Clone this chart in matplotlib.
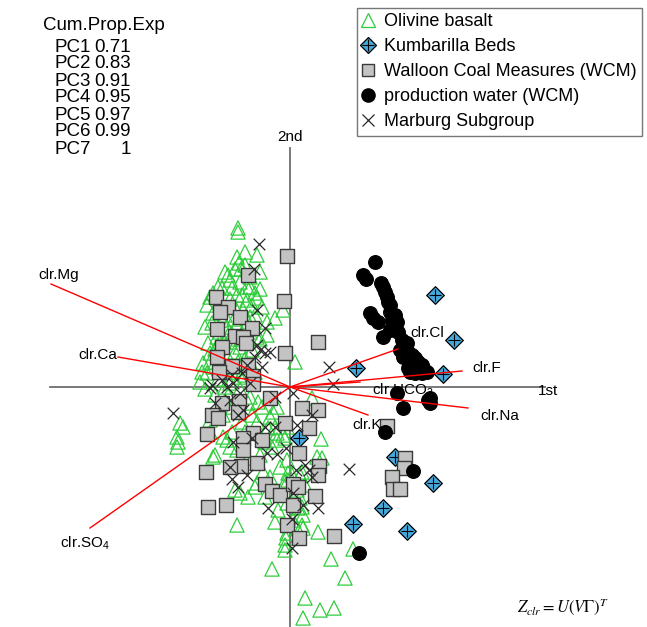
import numpy as np
import matplotlib
matplotlib.use("Agg")
import matplotlib.pyplot as plt
from matplotlib.lines import Line2D

plt.rcParams['font.family'] = ['Liberation Sans', 'DejaVu Sans']
plt.rcParams['mathtext.fontset'] = 'custom'
plt.rcParams['mathtext.rm'] = 'Liberation Sans'
plt.rcParams['mathtext.it'] = 'Liberation Sans:italic'

# cumulative proportion of variance explained
pcs = ['PC1', 'PC2', 'PC3', 'PC4', 'PC5', 'PC6', 'PC7']
cum_prop = [0.71, 0.83, 0.91, 0.95, 0.97, 0.99, 1]

# variable loadings (biplot units)
var_names = ['clr.Mg', 'clr.Ca', 'clr.SO$_4$', 'clr.Cl', 'clr.F', 'clr.HCO$_3$', 'clr.Na', 'clr.K']
load_pc1 = [-239, -172, -200, 108, 172, 70, 178, 78]
load_pc2 = [103, 30, -141, 38, 16, 5, -21, -28]
lab_pc1 = [-231, -192, -205, 137, 197, 113, 210, 77]
lab_pc2 = [112, 32, -156, 54, 19, -3, -29, -38]

# sample scores
olivine_pc1 = [-52, -52, -53, -33, -51, -49, -30, -40, -60, -50, -43, -68, -58, -35, -77, -53,
               -83, -43, -33, -55, -47, -15, -7, -23, -77, -40, -68, -78, -63, -53, -23, -33,
               -73, -82, -60, -50, -38, -80, -62, -87, -52, -77, -40, -83, 5, -90, -60,
               -65, -45, -60, -70, -48, -38, -65, -56, -45, -70, -58, -48, -66, -75, -55,
               -45, -68, -58, -50, -72, -85, -62,
               -85, -80, -72, -62, -55, -45, -40, -30, -28, -35, -42, -30, -40, -52, -62, -72,
               -80, -88, -70, -55, -45, -35, -65, -75, -50, -40, -57, -67, -48, -38, -28, -25,
               -18, -60, -45, -30, -20, -10, -5, -25,
               -110, -107, -113, -112, -113, -80, -53, -75, -80, -53, -5, -3, -33, -12, -42,
               -20, -13, -13, 22, -33, -17, -15, -7, 31, -58, -67, -40, -3, 27, -2, 2, 12,
               -55, -50, -42, -35, 12, -15, 7, 13, 28, -5, -18, 41, 55, 63, 15, 30, 44, 13,
               32, -63, -77, -42, -32, -3, -22, -13, -5, -27, -3, 8, 13, 12, 3, -2, 10, 15,
               10, 7, -4]
olivine_pc2 = [159, 155, 130, 132, 124, 118, 115, 110, 107, 105, 100, 99, 99, 94, 94, 92,
               82, 87, 89, 80, 77, 69, 77, 65, 74, 70, 67, 64, 60, 64, 52, 50,
               50, 44, 45, 40, 37, 34, 30, 24, 25, 20, 20, 14, 25, 5, 4,
               115, 135, 88, 85, 92, 82, 72, 68, 60, 55, 53, 50, 45, 38, 35,
               28, 25, 15, 10, 8, -2, -8,
               60, 90, 100, 112, 118, 122, 100, 98, 80, 72, 65, 48, 55, 48, 52, 42,
               25, 15, 30, 20, 12, 15, 0, -8, -2, -10, -20, -28, -35, -28, -20, -55,
               -60, -60, -45, -68, -90, -80, -95, -110,
               -36, -40, -50, -55, -60, -33, -63, -68, -45, -138, -158, -146, -96, -123, -71,
               -30, -20, -46, -11, -35, -25, -40, -48, -52, -45, -50, -76, -73, -70, -93, -88, -85,
               -103, -106, -110, -100, -120, -135, -141, -141, -145, -163, -182, -172, -191, -162, -211, -223, -221, -231,
               -71, -53, -70, -16, -15, -40, -41, -53, -51, -85, -116, -121, -128, -138, -133, -86, -88, -98,
               -111, -103, -151]

kumbarilla_pc1 = [145, 164, 153, 66, 105, 143, 93, 63, 117, 9]
kumbarilla_pc2 = [92, 47, 13, 19, -70, -96, -121, -137, -144, -51]

wcm_pc1 = [-3, -42, -6, -74, -62, -70, -50, -38, -73, -55, -47, -44, -68, -5, -73, -58,
           -42, -71, -37, -37, 28, -20, -68, -51, -52, -78, -72, 12, 28, -5, 19, -83,
           -37, -28, -47, -47, 9, -33, -49, -60, -84, 29, 28, -25, -18, -10, 3, 8,
           25, 3, -82, -64, -3, 9, 44, 97, 115, 114, 102, 103, 110]
wcm_pc2 = [131, 112, 86, 90, 80, 75, 70, 59, 58, 51, 50, 44, 40, 34, 30, 21,
           22, 15, 11, 3, 45, -11, -16, -14, -25, -28, -31, -21, -23, -36, -41, -47,
           -46, -53, -51, -63, -66, -76, -79, -80, -85, -79, -88, -97, -104, -108, -97, -100,
           -109, -118, -120, -118, -138, -151, -149, -39, -71, -81, -90, -102, -102]

water_pc1 = [85, 73, 76, 91, 93, 95, 97, 98, 100, 80, 83, 88, 100, 105, 107, 102,
             93, 100, 108, 112, 115, 118, 122, 125, 128, 132, 133, 120, 125, 132, 137, 118,
             113, 110, 117, 107, 113, 140, 140, 138, 95, 123, 69]
water_pc2 = [125, 112, 108, 104, 100, 95, 90, 85, 82, 74, 69, 65, 75, 72, 65, 67,
             50, 57, 55, 47, 40, 35, 32, 29, 25, 22, 19, 15, 14, 14, 15, 19,
             30, 37, 44, -6, -21, -11, -16, -13, -45, -84, -166]

marburg_pc1 = [-31, -36, -33, -25, -33, -30, -25, -20, -35, -28, -43, -48, -58, -68, -78, -40,
               -80, -63, -57, -50, -75, -60, -117, -47, -52, -15, 3, 43, 39, 22, 7, -25,
               -15, -57, -38, -23, -13, -4, -60, -43, -58, -52, 15, 19, 22, 6, 59, -22,
               13, 28, 2, 2, 3]
marburg_pc2 = [143, 118, 77, 59, 42, 37, 34, 35, 30, 20, 22, 14, 12, 7, 2, 4,
               -1, 0, 4, -6, -16, -13, -26, -23, -28, -10, -6, 3, 20, -28, -38, -40,
               -40, -55, -51, -66, -67, -61, -80, -88, -92, -100, -78, -83, -90, -83, -82, -121,
               -118, -121, -132, -161, -106]

green = '#2fcc3c'
axis_grey = '#6e6e6e'

fig = plt.figure(figsize=(6.47, 6.27), dpi=100)
ax = fig.add_axes([0, 0, 1, 1])
ax.set_xlim(-290, 357)
ax.set_ylim(-240, 387)
ax.axis('off')

# axes through the origin
ax.plot([-240, 255], [0, 0], color=axis_grey, lw=1.3, zorder=1)
ax.plot([0, 0], [239, -240], color=axis_grey, lw=1.3, zorder=1)
ax.text(0, 250, '2nd', ha='center', va='center', fontsize=11)
ax.text(258, -4, '1st', ha='center', va='center', fontsize=11)

# samples
ax.scatter(olivine_pc1, olivine_pc2, marker='^', s=105, facecolors='none',
           edgecolors=green, linewidths=0.9, zorder=2)
ax.scatter(kumbarilla_pc1, kumbarilla_pc2, marker='D', s=80, facecolors='#45a8dc',
           edgecolors='black', linewidths=0.9, zorder=3)
ax.scatter(kumbarilla_pc1, kumbarilla_pc2, marker='+', s=70, color='black',
           linewidths=0.8, zorder=3)
ax.scatter(wcm_pc1, wcm_pc2, marker='s', s=90, facecolors='#c3c3c3',
           edgecolors='#3a3a3a', linewidths=1.0, zorder=4)
ax.scatter(water_pc1, water_pc2, marker='o', s=95, color='black', zorder=5)
ax.scatter(marburg_pc1, marburg_pc2, marker='x', s=70, color='#2a2a2a',
           linewidths=0.9, zorder=6)

# loadings
for name, x1, y1, lx, ly in zip(var_names, load_pc1, load_pc2, lab_pc1, lab_pc2):
    ax.plot([0, x1], [0, y1], color='red', lw=1.0, zorder=7)
    ax.text(lx, ly, name, ha='center', va='center', fontsize=11, zorder=8)

ax.text(563, 20, r'$Z_{clr} = U(V\Gamma)^T$', transform=None, fontsize=12,
        ha='center', va='center', math_fontfamily='stix')

# explained variance table
fig.text(43 / 647, 1 - 26 / 627, 'Cum.Prop.Exp', fontsize=13.5, va='center', ha='left')
for i, (pc, v) in enumerate(zip(pcs, cum_prop)):
    yy = 1 - (47 + 17 * i) / 627
    fig.text(55 / 647, yy, pc, fontsize=13.5, va='center', ha='left')
    fig.text(131 / 647, yy, f'{v:g}', fontsize=13.5, va='center', ha='right')

handles = [
    Line2D([], [], ls='none', marker='^', ms=10, mfc='none', mec=green, mew=0.9),
    (Line2D([], [], ls='none', marker='D', ms=8.5, mfc='#45a8dc', mec='black', mew=0.9),
     Line2D([], [], ls='none', marker='+', ms=8.5, color='black', mew=0.8)),
    Line2D([], [], ls='none', marker='s', ms=9, mfc='#c3c3c3', mec='#3a3a3a', mew=1.0),
    Line2D([], [], ls='none', marker='o', ms=9.5, color='black'),
    Line2D([], [], ls='none', marker='x', ms=8.5, color='#2a2a2a', mew=0.9),
]
labels = ['Olivine basalt', 'Kumbarilla Beds', 'Walloon Coal Measures (WCM)',
          'production water (WCM)', 'Marburg Subgroup']
leg = fig.legend(handles, labels, loc='upper left', bbox_to_anchor=(357 / 647, 1 - 8 / 627),
                 fontsize=13, frameon=True, fancybox=False, borderaxespad=0,
                 borderpad=0.3, handlelength=0.6, handletextpad=0.6, labelspacing=0.44)
leg.get_frame().set_edgecolor('#555555')
leg.get_frame().set_linewidth(1.0)

fig.savefig('out.png', dpi=100)
